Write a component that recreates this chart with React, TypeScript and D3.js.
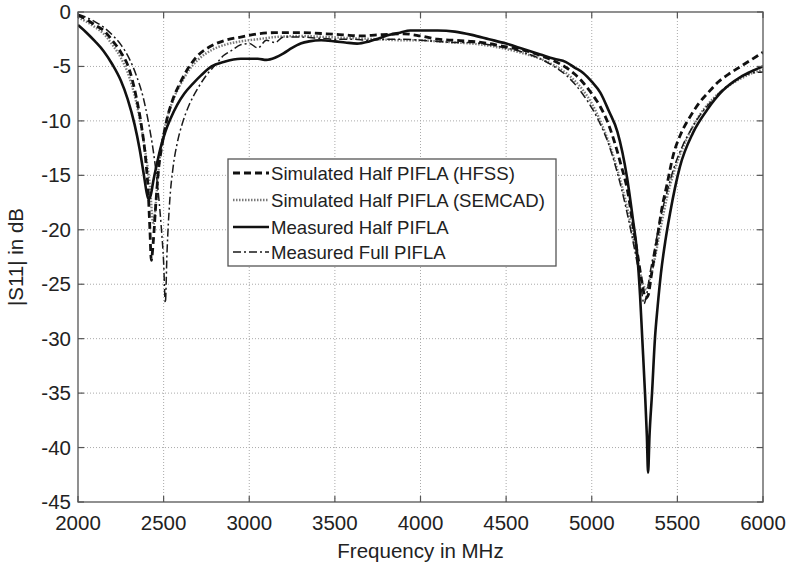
import React from "react";
import * as d3 from "d3";

const xTicks = [2000, 2500, 3000, 3500, 4000, 4500, 5000, 5500, 6000];
const yTicks = [0, -5, -10, -15, -20, -25, -30, -35, -40, -45];

const hfssFreq = [2000,2050,2100,2150,2200,2250,2300,2340,2370,2395,2410,2420,2428,2440,2455,2470,2490,2520,2550,2600,2650,2700,2780,2860,2950,3050,3150,3300,3450,3550,3650,3750,3900,4000,4100,4200,4300,4400,4500,4600,4700,4780,4850,4900,4950,5000,5050,5090,5130,5170,5210,5240,5270,5295,5315,5330,5345,5365,5385,5410,5440,5475,5520,5575,5630,5680,5740,5800,5870,5940,6000];
const hfssDb = [-0.3,-0.7,-1.2,-1.7,-2.6,-3.7,-5.3,-7.8,-10.4,-13.5,-16.5,-20,-22.8,-21,-17.5,-14.5,-12.3,-9.8,-8.2,-6.4,-5.0,-4.0,-3.1,-2.6,-2.3,-2.0,-1.9,-1.9,-2.0,-2.1,-2.2,-2.1,-2.0,-2.2,-2.5,-2.6,-2.7,-2.9,-3.2,-3.5,-4.0,-4.5,-5.1,-5.7,-6.5,-7.5,-8.7,-10,-11.8,-14,-16.5,-19.5,-22.5,-25,-26.3,-26,-24.5,-22.5,-20.5,-18,-15.8,-13.2,-11.2,-9.6,-8.3,-7.4,-6.4,-5.7,-5.0,-4.3,-3.7];

const semcadFreq = [2000,2050,2100,2150,2200,2250,2300,2350,2390,2420,2440,2455,2470,2490,2520,2560,2600,2650,2700,2780,2860,2950,3050,3150,3300,3450,3600,3750,3900,4000,4100,4200,4300,4400,4500,4600,4700,4780,4850,4900,4950,5000,5050,5100,5150,5200,5240,5270,5300,5320,5340,5370,5400,5440,5490,5550,5620,5700,5780,5860,5940,6000];
const semcadDb = [-0.5,-0.9,-1.4,-2.0,-3.0,-4.2,-6.0,-9.0,-12.5,-16,-19.5,-17.5,-14.5,-12,-9.8,-7.9,-6.6,-5.3,-4.4,-3.5,-3.0,-2.7,-2.5,-2.3,-2.2,-2.3,-2.4,-2.5,-2.6,-2.6,-2.7,-2.8,-2.9,-3.1,-3.4,-3.8,-4.3,-4.9,-5.6,-6.3,-7.2,-8.4,-10,-12,-14.5,-17.5,-20.5,-23,-25,-25.5,-24.5,-22.5,-20,-17,-14.2,-11.8,-9.7,-8.1,-7.0,-6.2,-5.6,-5.3];

const halfFreq = [2000,2050,2100,2150,2200,2250,2290,2330,2360,2385,2400,2412,2425,2440,2460,2480,2510,2540,2580,2620,2670,2720,2780,2850,2950,3050,3100,3150,3200,3250,3300,3350,3420,3500,3560,3630,3700,3760,3820,3880,3940,4000,4100,4200,4300,4400,4500,4600,4700,4780,4850,4900,4950,5000,5050,5100,5150,5206,5240,5264,5282,5295,5311,5322,5329,5337,5352,5369,5385,5404,5430,5457,5515,5591,5673,5766,5866,5940,6000];
const halfDb = [-1.2,-1.9,-2.7,-3.6,-4.8,-6.3,-8.0,-10.3,-12.6,-15,-16.5,-17.2,-16.8,-15.5,-14,-12.6,-11,-9.8,-8.5,-7.5,-6.6,-5.8,-5.0,-4.6,-4.3,-4.3,-4.4,-4.2,-3.8,-3.3,-2.9,-2.7,-2.6,-2.7,-2.8,-2.9,-2.7,-2.4,-2.1,-1.9,-1.7,-1.7,-1.7,-1.8,-2.1,-2.5,-2.9,-3.4,-3.9,-4.3,-4.6,-5.1,-5.6,-6.4,-7.4,-9.1,-11.0,-15.2,-19,-22,-26,-30,-35,-39,-42.3,-39,-35,-30,-27,-24,-21,-18.5,-14.2,-11.1,-9.0,-7.2,-6.0,-5.4,-5.0];

const fullFreq = [2000,2050,2100,2150,2200,2250,2300,2340,2380,2410,2440,2465,2485,2500,2510,2520,2535,2555,2580,2610,2650,2700,2750,2800,2850,2900,2950,3000,3050,3100,3150,3200,3300,3400,3500,3600,3700,3800,3900,4000,4100,4200,4300,4400,4500,4600,4700,4780,4850,4900,4950,5000,5050,5100,5150,5200,5240,5270,5290,5305,5320,5340,5370,5400,5440,5480,5530,5580,5640,5700,5760,5820,5880,5940,6000];
const fullDb = [-0.2,-0.5,-0.9,-1.4,-2.1,-3.0,-4.3,-5.8,-7.8,-10,-12.8,-16,-19.5,-23,-26.7,-22,-17.5,-14.3,-12,-10.2,-8.5,-7.0,-5.8,-4.9,-4.0,-3.5,-3.0,-2.9,-3.3,-2.6,-2.8,-2.3,-2.3,-2.4,-2.5,-2.5,-2.6,-2.5,-2.5,-2.6,-2.7,-2.8,-2.8,-3.0,-3.3,-3.7,-4.3,-5.0,-5.8,-6.6,-7.6,-8.8,-10.3,-12.2,-14.8,-18,-21,-23.5,-25.5,-26.8,-26,-24,-21.5,-19,-16.5,-14.3,-12.3,-10.8,-9.3,-8.2,-7.2,-6.5,-5.9,-5.6,-5.5];

const seriesNames = [
  "Simulated Half PIFLA (HFSS)",
  "Simulated Half PIFLA (SEMCAD)",
  "Measured Half PIFLA",
  "Measured Full PIFLA",
];

const styles = [
  { stroke: "#111", width: 2.8, dash: "7,4" },
  { stroke: "#7a7a7a", width: 2.4, dash: "1.5,1.5" },
  { stroke: "#111", width: 2.6, dash: "" },
  { stroke: "#1a1a1a", width: 1.5, dash: "8,3,2,3" },
];

const W = 787, H = 565;
const left = 78, right = 763, top = 12, bottom = 502;
const FONT = "'Liberation Sans', Arial, sans-serif";

export default function App() {
  const x = d3.scaleLinear().domain([2000, 6000]).range([left, right]);
  const y = d3.scaleLinear().domain([-45, 0]).range([bottom, top]);
  const line = d3
    .line<[number, number]>()
    .x((d) => x(d[0]))
    .y((d) => y(d[1]))
    .curve(d3.curveMonotoneX);
  const series = [
    d3.zip(hfssFreq, hfssDb),
    d3.zip(semcadFreq, semcadDb),
    d3.zip(halfFreq, halfDb),
    d3.zip(fullFreq, fullDb),
  ] as [number, number][][];
  const drawOrder = [1, 3, 0, 2];

  const legX = 228, legY = 159, legW = 328, legH = 107;
  const legRows = [173, 200, 227, 252];

  return (
    <svg width={W} height={H} style={{ position: "absolute", left: 0, top: 0, background: "#fff" }}>
      <rect x={0} y={0} width={W} height={H} fill="#fff" />
      <defs>
        <clipPath id="plot">
          <rect x={left} y={top} width={right - left} height={bottom - top} />
        </clipPath>
      </defs>
      {xTicks.slice(1, -1).map((t) => (
        <line key={"gx" + t} x1={x(t)} x2={x(t)} y1={top} y2={bottom} stroke="#aaa" strokeWidth={1} strokeDasharray="1,2" />
      ))}
      {yTicks.slice(1, -1).map((t) => (
        <line key={"gy" + t} x1={left} x2={right} y1={y(t)} y2={y(t)} stroke="#aaa" strokeWidth={1} strokeDasharray="1,2" />
      ))}
      <g clipPath="url(#plot)">
        {drawOrder.map((i) => (
          <path key={i} d={line(series[i]) || ""} fill="none" stroke={styles[i].stroke} strokeWidth={styles[i].width} strokeDasharray={styles[i].dash} strokeLinejoin="round" />
        ))}
      </g>
      <rect x={left} y={top} width={right - left} height={bottom - top} fill="none" stroke="#555" strokeWidth={1.3} />
      {xTicks.map((t) => (
        <g key={"tx" + t}>
          <line x1={x(t)} x2={x(t)} y1={bottom} y2={bottom - 6} stroke="#555" strokeWidth={1.2} />
          <line x1={x(t)} x2={x(t)} y1={top} y2={top + 6} stroke="#555" strokeWidth={1.2} />
          <text x={x(t)} y={530} textAnchor="middle" fontFamily={FONT} fontSize={20.5} fill="#222">{t}</text>
        </g>
      ))}
      {yTicks.map((t) => (
        <g key={"ty" + t}>
          <line x1={left} x2={left + 6} y1={y(t)} y2={y(t)} stroke="#555" strokeWidth={1.2} />
          <line x1={right} x2={right - 6} y1={y(t)} y2={y(t)} stroke="#555" strokeWidth={1.2} />
          <text x={71} y={y(t) + 7} textAnchor="end" fontFamily={FONT} fontSize={20.5} fill="#222">{t}</text>
        </g>
      ))}
      <text x={(left + right) / 2} y={558} textAnchor="middle" fontFamily={FONT} fontSize={20.5} fill="#222">Frequency in MHz</text>
      <text transform={`translate(23,${(top + bottom) / 2}) rotate(-90)`} textAnchor="middle" fontFamily={FONT} fontSize={20.5} fill="#222">|S11| in dB</text>
      <rect x={legX} y={legY} width={legW} height={legH} fill="#fff" stroke="#555" strokeWidth={1.3} />
      {seriesNames.map((n, i) => (
        <g key={n}>
          <line x1={233} x2={269} y1={legRows[i]} y2={legRows[i]} stroke={styles[i].stroke} strokeWidth={styles[i].width} strokeDasharray={styles[i].dash} />
          <text x={271} y={legRows[i] + 6.5} fontFamily={FONT} fontSize={18.6} fill="#222">{n}</text>
        </g>
      ))}
    </svg>
  );
}
